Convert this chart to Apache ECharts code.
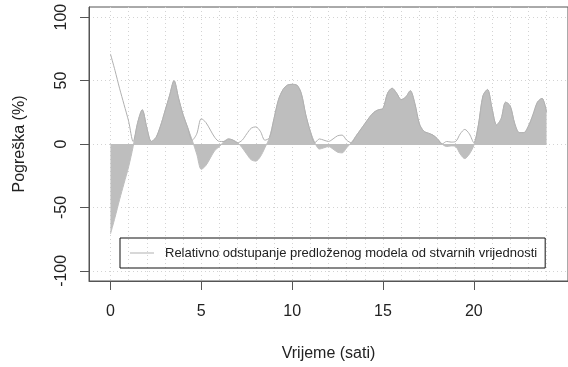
<!DOCTYPE html>
<html>
<head>
<meta charset="utf-8">
<script src="https://cdn.jsdelivr.net/npm/echarts@6/dist/echarts.min.js"></script>
<style>
  html, body { margin: 0; padding: 0; background: #fff; }
  #chart { width: 568px; height: 367px; }
</style>
</head>
<body>
<div id="chart"></div>
<script>
// relativna greska (%) svakih 15 minuta, 0 - 24 h
const korak = 0.25;
const greska = [
  -71, -58, -44, -31,
  -18, -2, 17, 27,
  13, 2, 5, 14,
  26, 38, 50, 36,
  23, 13, 3, -8,
  -20, -17, -11, -5,
  -2, 2, 4, 3,
  1, -3, -8, -12.5,
  -13.5, -10, -3, 5,
  20, 35, 43, 46.5,
  47, 46.5, 40, 23,
  10, 1, -4, -3,
  -2, -4, -6.5, -7,
  -3, 1, 6, 11,
  16, 21, 25, 27,
  28, 40, 44, 40,
  35, 37, 42, 32,
  16, 10, 8.5, 7,
  4, 0, -2, -1.5,
  -2, -8, -11.5, -8,
  -1, 15, 38, 43,
  28, 15, 20, 33,
  30, 16, 9, 9,
  14, 23, 33, 36,
  25
];
const sati = greska.map((_, i) => i * korak);

const xOznake = [0, 5, 10, 15, 20];
const xMreza = [0, 1, 2, 3, 4, 5, 6, 7, 8, 9, 10, 11, 12, 13, 14, 15, 16, 17, 18, 19, 20, 21, 22, 23, 24];
const yOznake = [-100, -50, 0, 50, 100];
const nazivLinije = 'Relativno odstupanje predloženog modela od stvarnih vrijednosti';

const chart = echarts.init(document.getElementById('chart'));
const font = '"Liberation Sans", Arial, sans-serif';
const osa = '#555';
const mreza = { show: true, lineStyle: { color: '#d3d3d3', type: [1, 3], width: 1 } };

chart.setOption({
  animation: false,
  textStyle: { fontFamily: font },
  grid: {
    left: 89, top: 7, width: 486, height: 275,
    show: true, borderColor: osa, borderWidth: 1
  },
  legend: {
    data: [{ name: nazivLinije, icon: 'rect' }],
    left: 120, top: 238,
    padding: [8, 8, 8, 10],
    itemWidth: 24, itemHeight: 1,
    borderColor: '#111', borderWidth: 1,
    itemStyle: { color: '#b0b0b0' },
    textStyle: { fontSize: 13, lineHeight: 14, color: '#222', padding: [0, 0, 0, 6] }
  },
  xAxis: [
    {
      type: 'value', min: -1.18, max: 25.18,
      name: 'Vrijeme (sati)', nameLocation: 'middle', nameGap: 65,
      nameTextStyle: { fontSize: 16, color: '#222' },
      axisLine: { show: true, onZero: false, lineStyle: { color: osa } },
      axisTick: { customValues: xOznake, length: 9, lineStyle: { color: osa } },
      axisLabel: { customValues: xOznake, fontSize: 16, color: '#222', margin: 23 },
      splitLine: { show: false }
    },
    {
      type: 'value', min: -1.18, max: 25.18, position: 'bottom',
      axisLine: { show: false },
      axisTick: { show: false, customValues: xMreza },
      axisLabel: { show: false },
      splitLine: mreza
    }
  ],
  yAxis: {
    type: 'value', min: -108, max: 108,
    name: 'Pogreška (%)', nameLocation: 'middle', nameGap: 61,
    nameTextStyle: { fontSize: 16, color: '#222' },
    axisLine: { show: true, onZero: false, lineStyle: { color: osa } },
    axisTick: { customValues: yOznake, length: 9, lineStyle: { color: osa } },
    axisLabel: { customValues: yOznake, rotate: 90, fontSize: 16, color: '#222', margin: 19 },
    splitLine: mreza
  },
  series: [
    {
      name: 'greska',
      type: 'line',
      data: sati.map((t, i) => [t, greska[i]]),
      smooth: 0.3,
      symbol: 'none',
      silent: true,
      lineStyle: { color: '#bebebe', width: 1 },
      areaStyle: { color: '#bebebe', opacity: 1, origin: 0 },
      markLine: {
        silent: true,
        symbol: 'none',
        label: { show: false },
        lineStyle: { color: '#bebebe', type: 'solid', width: 1 },
        data: [[{ coord: [sati[0], 0] }, { coord: [sati[sati.length - 1], 0] }]]
      }
    },
    {
      name: nazivLinije,
      type: 'line',
      data: sati.map((t, i) => [t, Math.abs(greska[i])]),
      smooth: 0.3,
      symbol: 'none',
      silent: true,
      lineStyle: { color: '#b0b0b0', width: 1 },
      itemStyle: { color: '#b0b0b0' }
    }
  ]
});
</script>
</body>
</html>
